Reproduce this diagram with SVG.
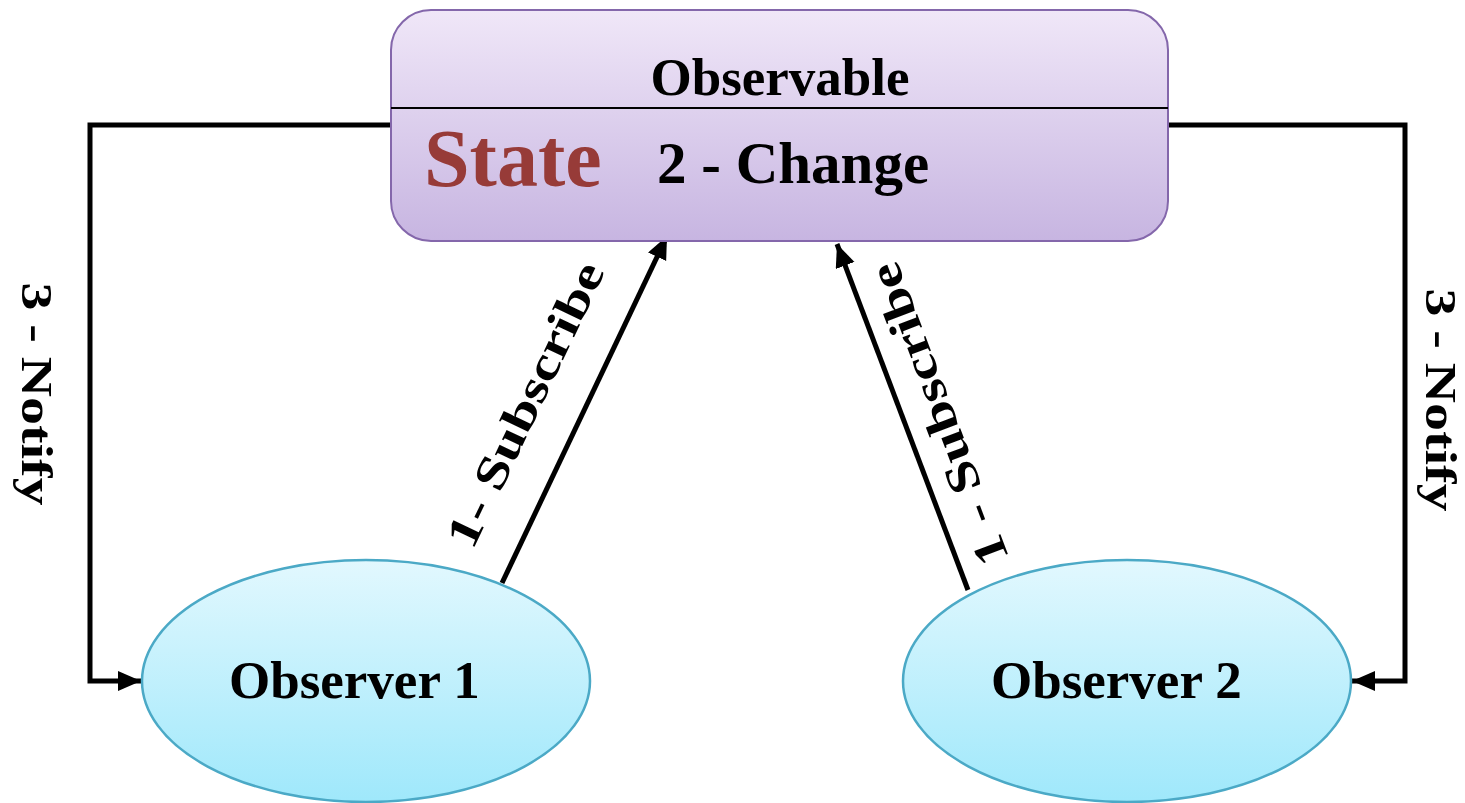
<svg xmlns="http://www.w3.org/2000/svg" width="1465" height="803" viewBox="0 0 1465 803">
  <style>
    .lbl { font-family: "Liberation Serif", "Times New Roman", serif; font-weight: bold; fill: #000; }
    .wire { fill: none; stroke: #000; stroke-width: 5; }
    .obs { stroke: #4ba9c6; stroke-width: 2.5; fill: url(#obsFill); }
  </style>
  <defs>
    <linearGradient id="boxFill" x1="0" y1="0" x2="0" y2="1">
      <stop offset="0" stop-color="#f0e7f8"/>
      <stop offset="1" stop-color="#c7b5e1"/>
    </linearGradient>
    <linearGradient id="obsFill" x1="0" y1="0" x2="0" y2="1">
      <stop offset="0" stop-color="#e2f8fe"/>
      <stop offset="1" stop-color="#9fe8fb"/>
    </linearGradient>
    <marker id="head" markerUnits="userSpaceOnUse" markerWidth="26" markerHeight="22" refX="23" refY="10" orient="auto">
      <path d="M0,0 L23,10 L0,20 z" fill="#000"/>
    </marker>
  </defs>

  <!-- connectors -->
  <g id="connectors">
    <path class="wire" d="M390,125 H90 V681 H141" marker-end="url(#head)"/>
    <path class="wire" d="M1169,125 H1405 V681 H1352" marker-end="url(#head)"/>
    <path class="wire" d="M502,583 L667,236" marker-end="url(#head)"/>
    <path class="wire" d="M968,590 L837,244" marker-end="url(#head)"/>
    <text class="lbl" font-size="45" text-anchor="middle" transform="translate(22,394) rotate(90) scale(1.24,1)">3 - Notify</text>
    <text class="lbl" font-size="45" text-anchor="middle" transform="translate(1426,400) rotate(90) scale(1.24,1)">3 - Notify</text>
    <text class="lbl" font-size="46" text-anchor="middle" transform="translate(539,411) rotate(-64.6) scale(1.27,1)">1- Subscribe</text>
    <text class="lbl" font-size="46" text-anchor="middle" transform="translate(953,409) rotate(-110.7) scale(1.25,1)">1 - Subscribe</text>
  </g>

  <!-- observable subject -->
  <g id="observable">
    <rect x="391" y="10" width="777" height="231" rx="40" ry="40" fill="url(#boxFill)" stroke="#8467ab" stroke-width="2"/>
    <line x1="391" y1="108" x2="1168" y2="108" stroke="#000" stroke-width="2"/>
    <text class="lbl" font-size="53" x="780" y="95" text-anchor="middle">Observable</text>
    <text class="lbl" font-size="82" x="424" y="186" style="fill:#973b38">State</text>
    <text class="lbl" font-size="59" x="657" y="183">2 - Change</text>
  </g>

  <!-- observers -->
  <g id="observer1">
    <ellipse class="obs" cx="366" cy="681" rx="224" ry="121"/>
    <text class="lbl" font-size="53" x="229" y="698">Observer 1</text>
  </g>
  <g id="observer2">
    <ellipse class="obs" cx="1127" cy="681" rx="224" ry="121"/>
    <text class="lbl" font-size="53" x="991" y="698">Observer 2</text>
  </g>
</svg>
